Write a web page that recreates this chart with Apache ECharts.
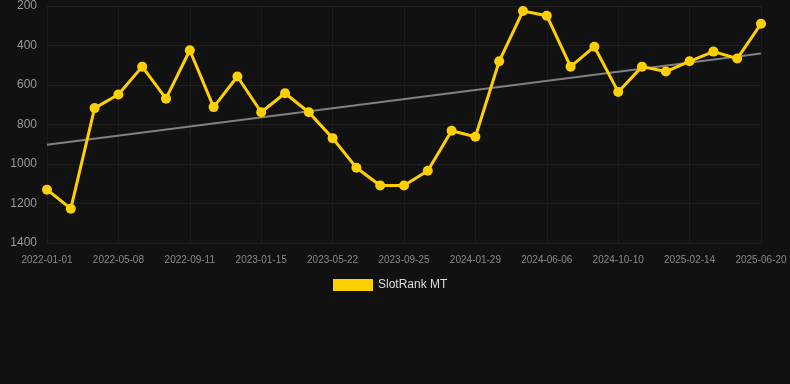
<!DOCTYPE html>
<html>
<head>
<meta charset="utf-8">
<script src="https://cdn.jsdelivr.net/npm/echarts@6/dist/echarts.min.js"></script>
<style>
  html, body { margin: 0; padding: 0; background: #111111; }
  #chart { width: 790px; height: 384px; }
</style>
</head>
<body>
<div id="chart"></div>
<script>
// dates (every third one is shown on the axis)
var dates = [
	'2022-01-01', '2022-02-12', '2022-03-26', '2022-05-08', '2022-06-19', '2022-07-31',
	'2022-09-11', '2022-10-23', '2022-12-04', '2023-01-15', '2023-02-26', '2023-04-09',
	'2023-05-22', '2023-07-03', '2023-08-14', '2023-09-25', '2023-11-06', '2023-12-18',
	'2024-01-29', '2024-03-12', '2024-04-24', '2024-06-06', '2024-07-18', '2024-08-29',
	'2024-10-10', '2024-11-21', '2025-01-02', '2025-02-14', '2025-03-28', '2025-05-09',
	'2025-06-20'
];
// rank values
var rankValues = [
	1130, 1226, 717, 648, 507, 669, 424, 712, 557, 738, 642,
	738, 869, 1019, 1109, 1109, 1034, 832, 862, 480, 225,
	249, 507, 406, 635, 507, 532, 480, 431, 466, 290
];
// trend line end points (first and last date)
var trendValues = [903, 441];
var yTicks = [200, 1400, 200]; // min, max, step

var chart = echarts.init(document.getElementById('chart'));
var option = {
	backgroundColor: '#111111',
	animation: false,
	grid: {
		left: 47,
		right: 29,
		top: 6,
		bottom: 141
	},
	legend: {
		data: [{ name: 'SlotRank MT', icon: 'rect' }],
		top: 274,
		left: 328,
		itemWidth: 40,
		itemHeight: 12,
		itemGap: 6,
		textStyle: { color: '#dddddd', fontSize: 12, fontFamily: 'Arial, Liberation Sans, sans-serif' }
	},
	xAxis: {
		type: 'category',
		boundaryGap: false,
		data: dates,
		axisLine: { show: false },
		axisTick: { show: false },
		axisLabel: {
			interval: 2,
			color: '#888888',
			fontSize: 10,
			margin: 12,
			fontFamily: 'Arial, Liberation Sans, sans-serif'
		},
		splitLine: {
			show: true,
			interval: 2,
			lineStyle: { color: '#1c1c1c', width: 1 }
		}
	},
	yAxis: {
		type: 'value',
		inverse: true,
		min: yTicks[0],
		max: yTicks[1],
		interval: yTicks[2],
		axisLine: { show: false },
		axisTick: { show: false },
		axisLabel: {
			color: '#999999',
			fontSize: 12,
			margin: 10,
			fontFamily: 'Arial, Liberation Sans, sans-serif',
			formatter: function(v) { return String(v); }
		},
		splitLine: {
			lineStyle: { color: '#1f1f1f', width: 1 }
		}
	},
	series: [
		{
			name: 'SlotRank MT',
			type: 'line',
			data: rankValues,
			symbol: 'circle',
			symbolSize: 10,
			lineStyle: { color: '#FFD000', width: 3 },
			itemStyle: { color: '#FFD000' },
			z: 3
		},
		{
			name: 'trend',
			type: 'line',
			data: [[dates[0], trendValues[0]], [dates[dates.length - 1], trendValues[1]]],
			symbol: 'none',
			lineStyle: { color: '#808080', width: 2 },
			z: 2
		}
	]
};
chart.setOption(option);
</script>
</body>
</html>
